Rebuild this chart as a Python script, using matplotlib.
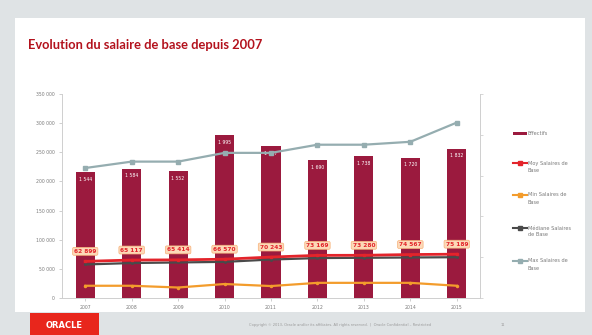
import matplotlib
matplotlib.use("Agg")
import matplotlib.pyplot as plt
from matplotlib.patches import Rectangle
from matplotlib.lines import Line2D
import numpy as np

years = ["2007", "2008", "2009", "2010", "2011", "2012", "2013", "2014", "2015"]
effectifs = [1544, 1584, 1552, 1995, 1857, 1690, 1738, 1720, 1832]
moy = [62899, 65117, 65414, 66570, 70243, 73169, 73280, 74567, 75189]
mini = [21000, 21000, 18000, 24000, 20500, 26000, 26000, 26000, 21000]
mediane = [57500, 60000, 61000, 62000, 66000, 68500, 69000, 69500, 70000]
maxi = [223000, 234000, 234000, 249000, 249000, 263000, 263000, 268000, 301000]
yticks = [0, 50000, 100000, 150000, 200000, 250000, 300000, 350000]

W, H = 592, 335
fig = plt.figure(figsize=(W / 100, H / 100), dpi=100, facecolor="#dfe3e5")

def fx(px):
    return px / W

def fy(py):
    return 1 - py / H

# slide white area
fig.add_artist(Rectangle((fx(15), fy(312)), fx(585) - fx(15), fy(18) - fy(312),
                         transform=fig.transFigure, facecolor="white", edgecolor="none", zorder=0))

fig.text(fx(28), fy(45), "Evolution du salaire de base depuis 2007", color="#b3121d",
         fontsize=9.3, fontweight="bold", family="Lato", va="center", ha="left")

fmt = lambda v: f"{v:,}".replace(",", " ")

ax = fig.add_axes([fx(62), fy(298), fx(480) - fx(62), fy(94) - fy(298)])
ax2 = ax.twinx()
ax.set_zorder(ax2.get_zorder() + 1)
ax.patch.set_visible(False)

x = np.arange(len(years))
bars = ax2.bar(x, effectifs, width=0.41, color="#9b1a3e", zorder=2)
ax2.set_ylim(0, 2500)
ax2.set_yticks([0, 500, 1000, 1500, 2000, 2500])
ax2.set_yticklabels([])
ax2.tick_params(axis="y", length=2, color="#d0d0d0", width=0.6)
for xi, v in zip(x, effectifs):
    ax2.annotate(fmt(v), (xi, v), xytext=(0, -7), textcoords="offset pixels",
                 ha="center", va="center", fontsize=3.3, color="white")

ax.plot(x, mini, color="#f39c2c", lw=1.6, marker="o", ms=1.5, zorder=3)
ax.plot(x, mediane, color="#4a4a4a", lw=1.6, marker="o", ms=1.2, zorder=3)
ax.plot(x, moy, color="#e3242b", lw=2.0, marker="s", ms=1.5, zorder=4)
ax.plot(x, maxi, color="#95adb0", lw=1.6, marker="s", ms=2.5, zorder=3)

for xi, v in zip(x, moy):
    ax.annotate(fmt(v), (xi, v), xytext=(0, 10), textcoords="offset pixels",
                ha="center", va="center", fontsize=4.2, fontweight="bold", color="#e3242b",
                bbox=dict(boxstyle="round,pad=0.25", fc="#fcd9b8", ec="#f7b27a", lw=0.5),
                zorder=6)

ax.set_xlim(-0.5, len(years) - 0.5)
ax.set_ylim(0, 350000)
ax.set_yticks(yticks)
ax.set_yticklabels([fmt(t) for t in yticks])
ax.set_xticks(x)
ax.set_xticklabels(years)
ax.tick_params(axis="both", labelsize=3.3, labelcolor="#7a7a7a", length=2, color="#c8c8c8", width=0.6)
ax.tick_params(axis="y", pad=3)
ax.tick_params(axis="x", pad=3)
for a in (ax, ax2):
    a.spines["top"].set_visible(False)
    for s in ("left", "right", "bottom"):
        a.spines[s].set_color("#d0d0d0")
        a.spines[s].set_linewidth(0.7)

# manual legend
leg = [
    ("bar", "#9b1a3e", "Effectifs", 133),
    ("line", "#e3242b", "Moy Salaires de\nBase", 163),
    ("line", "#f39c2c", "Min Salaires de\nBase", 195),
    ("line", "#4a4a4a", "Médiane Salaires\nde Base", 228),
    ("line", "#95adb0", "Max Salaires de\nBase", 261),
]
for kind, col, lab, py in leg:
    if kind == "bar":
        fig.add_artist(Rectangle((fx(513), fy(py + 1.5)), fx(527) - fx(513), fy(py - 1.5) - fy(py + 1.5),
                                 transform=fig.transFigure, facecolor=col, edgecolor="none"))
    else:
        fig.add_artist(Line2D([fx(513), fx(527)], [fy(py), fy(py)], transform=fig.transFigure,
                              color=col, lw=1.5, marker="s", markevery=[0], ms=0))
        fig.add_artist(Line2D([fx(520)], [fy(py)], transform=fig.transFigure,
                              color=col, marker="s", ms=2.5, lw=0))
    fig.text(fx(528), fy(py - 2.5), lab, fontsize=3.6, color="#7a7a7a", va="top", ha="left",
             linespacing=1.5)

# footer
fig.add_artist(Rectangle((fx(30), 0), fx(99) - fx(30), fy(313),
                         transform=fig.transFigure, facecolor="#e8261c", edgecolor="none"))
fig.text(fx(64), fy(325), "ORACLE", color="white", fontsize=6, fontweight="bold",
         ha="center", va="center", family="DejaVu Sans")
fig.text(fx(340), fy(325),
         "Copyright © 2013, Oracle and/or its affiliates. All rights reserved.  |  Oracle Confidential – Restricted",
         fontsize=2.6, color="#9a9a9a", ha="center", va="center")
fig.text(fx(503), fy(325), "11", fontsize=2.6, color="#9a9a9a", ha="center", va="center")

fig.savefig("out.png", dpi=100, facecolor=fig.get_facecolor())
